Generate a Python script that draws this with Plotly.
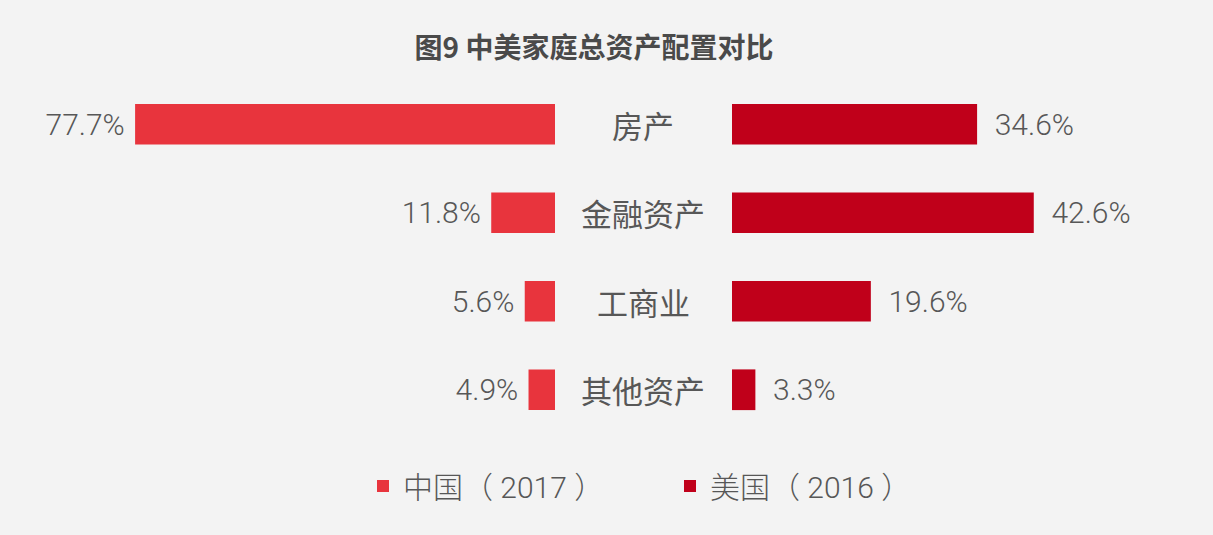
import plotly.graph_objects as go

categories = ["房产", "金融资产", "工商业", "其他资产"]
china_2017 = [77.7, 11.8, 5.6, 4.9]
us_2016 = [34.6, 42.6, 19.6, 3.3]
series_names = ["中国（ 2017 ）", "美国（ 2016 ）"]
title_text = "图9 中美家庭总资产配置对比"

W, H = 1213, 535
FONT = "Noto Sans CJK SC"
NUMFONT = "Roboto, Noto Sans CJK SC"
GRAY = "#575757"
C_CN = "#e8343d"
C_US = "#c0001a"
BG = "#f3f3f3"
NB = "\u00a0"

fig = go.Figure()
fig.add_trace(go.Bar(
    y=categories, x=china_2017, orientation="h", name=series_names[0],
    marker=dict(color=C_CN, line=dict(width=0)),
    xaxis="x", yaxis="y", width=0.46,
    text=[f"{v}%{NB}" for v in china_2017], textposition="outside", constraintext="none",
    textfont=dict(family=NUMFONT, size=30, color=GRAY, weight=300), cliponaxis=False,
))
fig.add_trace(go.Bar(
    y=categories, x=us_2016, orientation="h", name=series_names[1],
    marker=dict(color=C_US, line=dict(width=0)),
    xaxis="x2", yaxis="y", width=0.46,
    text=[f"{NB}{NB}{v}%" for v in us_2016], textposition="outside", constraintext="none",
    textfont=dict(family=NUMFONT, size=30, color=GRAY, weight=300), cliponaxis=False,
))

for c in categories:
    fig.add_annotation(
        x=643 / W, xref="paper", y=c, yref="y", text=c, showarrow=False,
        font=dict(family=FONT, size=31, color=GRAY), xanchor="center", yanchor="middle",
    )

fig.update_layout(
    width=W, height=H,
    paper_bgcolor=BG, plot_bgcolor=BG,
    margin=dict(l=0, r=0, t=80, b=101),
    title=dict(text=f"<b>{title_text}</b>", x=594 / W, xanchor="center", y=1 - 48 / H, yanchor="middle",
               font=dict(family=FONT, size=28, color="#4a4a4a")),
    xaxis=dict(domain=[0, 555 / W], range=[102.7, 0], visible=False, fixedrange=True),
    xaxis2=dict(domain=[732 / W, 1], range=[0, 67.9], visible=False, fixedrange=True),
    yaxis=dict(categoryorder="array", categoryarray=categories,
               visible=False, range=[3.5, -0.5]),
    bargap=0.54,
    showlegend=True,
    legend=dict(orientation="h", x=(385 - 22) / W, xanchor="left", y=-52 / 354, yanchor="middle",
                font=dict(family=NUMFONT, size=30, color=GRAY, weight=300), itemwidth=30,
                traceorder="normal", bgcolor="rgba(0,0,0,0)", entrywidthmode="pixels", entrywidth=262),
    font=dict(family=FONT, color=GRAY),
)

fig.write_html("out.html", config={"displayModeBar": False},
               post_script="document.body.style.margin='0';document.body.style.background='%s';" % BG)
